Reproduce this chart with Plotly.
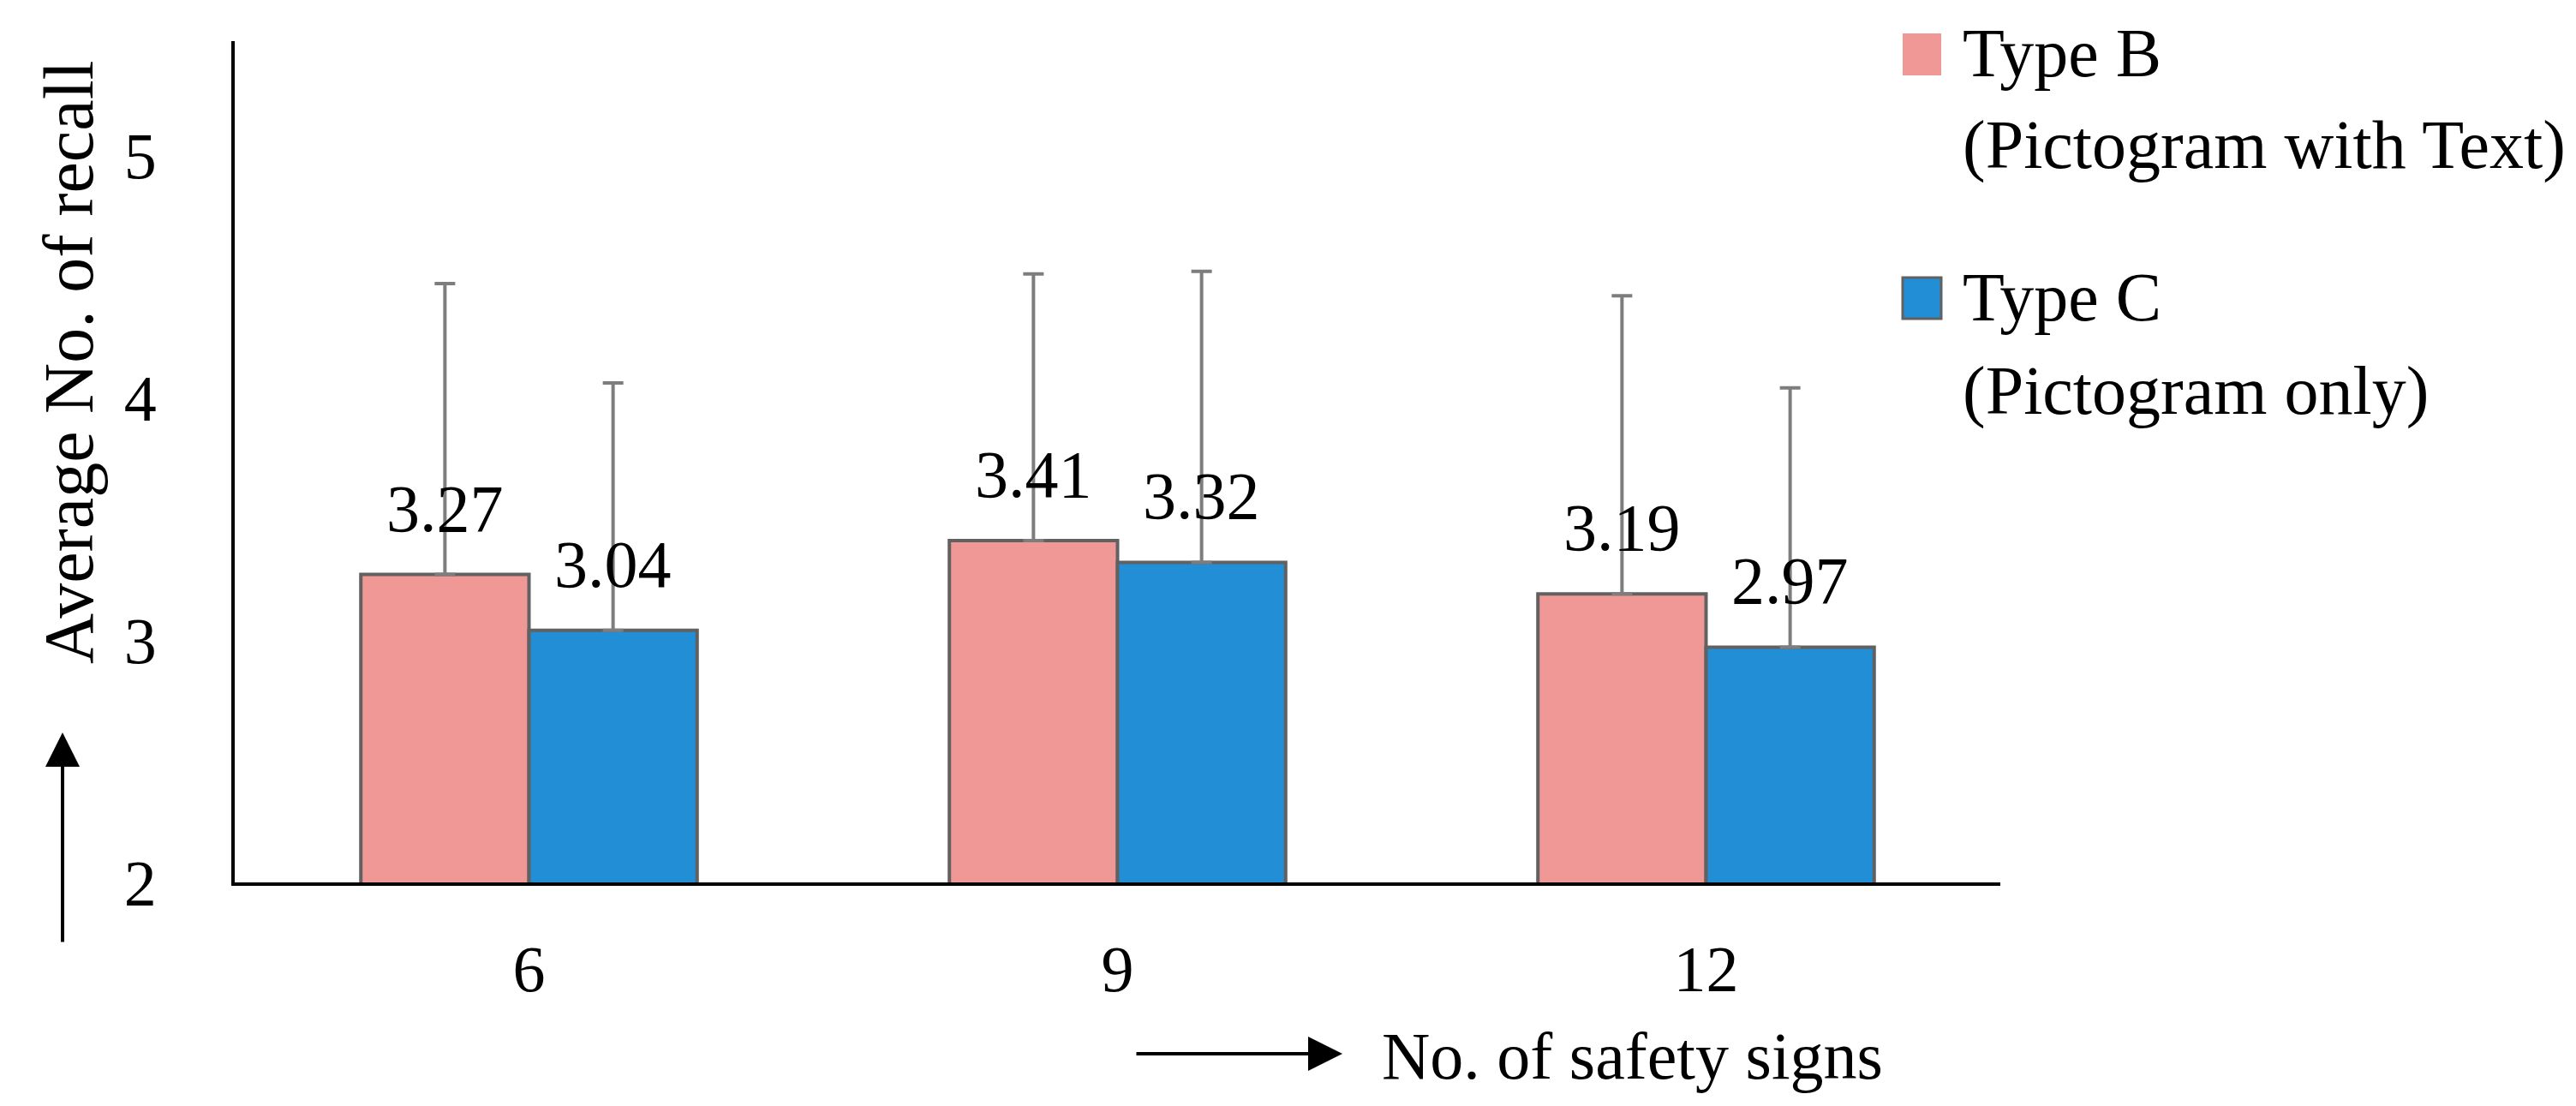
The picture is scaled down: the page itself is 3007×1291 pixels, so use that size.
import plotly.graph_objects as go

categories = ["6", "9", "12"]
series_names = ["Type B", "Type C"]
series_subtitles = ["(Pictogram with Text)", "(Pictogram only)"]
type_b = [3.27, 3.41, 3.19]
type_c = [3.04, 3.32, 2.97]
type_b_err = [1.20, 1.10, 1.23]
type_c_err = [1.02, 1.20, 1.07]
y_ticks = [2, 3, 4, 5]
y_title = "Average No. of recall"
x_title = "No. of safety signs"

W, H = 3007, 1291
L, R, T, B = 266, 680, 40, 269
FONT = "Liberation Serif"
colors = ["#F09896", "#228ED6"]
edge = "#616161"
errc = "#7d7d7d"

fig = go.Figure()
for name, vals, errs, col in [(series_names[0], type_b, type_b_err, colors[0]),
                              (series_names[1], type_c, type_c_err, colors[1])]:
    fig.add_trace(go.Bar(
        x=categories, y=vals, name=name,
        marker=dict(color=col, line=dict(color=edge, width=4)),
        error_y=dict(type="data", array=errs, arrayminus=[0] * len(errs),
                     symmetric=False, color=errc, thickness=4, width=12),
        showlegend=False,
    ))

annotations = []
half = 0.5 * (1 - 0.4286) / 2
for i in range(len(categories)):
    for vals, off in [(type_b, -half), (type_c, half)]:
        annotations.append(dict(
            x=i + off, y=vals[i], xref="x", yref="y", text=f"{vals[i]:.2f}",
            showarrow=False, yanchor="bottom", yshift=32,
            font=dict(family=FONT, size=78, color="black")))

pw = W - L - R
ph = H - T - B
def px(xp):
    return (xp - L) / pw
def py(yp):
    return (H - B - yp) / ph

# y-axis title and arrow
annotations.append(dict(x=px(72), y=py(415), xref="paper", yref="paper",
                        text=y_title, textangle=-90, showarrow=False,
                        xanchor="center", yanchor="middle",
                        font=dict(family=FONT, size=82, color="black")))
annotations.append(dict(x=px(65), y=py(847), xref="paper", yref="paper",
                        text="", showarrow=True, ax=0, ay=246,
                        arrowhead=2, arrowsize=2, arrowwidth=4, arrowcolor="black"))
# x-axis title and arrow
annotations.append(dict(x=px(1559), y=py(1222), xref="paper", yref="paper",
                        text="", showarrow=True, ax=-242, ay=0,
                        arrowhead=2, arrowsize=2, arrowwidth=4, arrowcolor="black"))
annotations.append(dict(x=px(1603), y=py(1224), xref="paper", yref="paper",
                        text=x_title, showarrow=False, xanchor="left", yanchor="middle",
                        font=dict(family=FONT, size=78, color="black")))

# legend drawn manually
shapes = []
leg_sq = [(31, 80), (316, 364)]
leg_line1 = [54, 339]
leg_line2 = [162, 448]
for k in range(2):
    y0, y1 = leg_sq[k]
    shapes.append(dict(type="rect", xref="paper", yref="paper",
                       x0=px(2213), x1=px(2258), y0=py(y1), y1=py(y0),
                       fillcolor=colors[k],
                       line=dict(color=colors[k] if k == 0 else edge, width=3 if k else 0)))
    annotations.append(dict(x=px(2281), y=py(leg_line1[k]), xref="paper", yref="paper",
                            text=series_names[k], showarrow=False, xanchor="left",
                            yanchor="middle", font=dict(family=FONT, size=80, color="black")))
    annotations.append(dict(x=px(2281), y=py(leg_line2[k]), xref="paper", yref="paper",
                            text=series_subtitles[k], showarrow=False, xanchor="left",
                            yanchor="middle", font=dict(family=FONT, size=80, color="black")))

fig.update_layout(
    width=W, height=H,
    margin=dict(l=L, r=R, t=T, b=B),
    paper_bgcolor="white", plot_bgcolor="white",
    barmode="group", bargap=0.4286, bargroupgap=0,
    font=dict(family=FONT, size=76, color="black"),
    annotations=annotations, shapes=shapes,
    xaxis=dict(showline=True, linecolor="black", linewidth=4, showgrid=False,
               ticks="", ticklabelstandoff=32, tickfont=dict(size=76),
               range=[-0.5, 2.5], zeroline=False),
    yaxis=dict(showline=True, linecolor="black", linewidth=4, showgrid=False,
               ticks="", tickvals=y_ticks, range=[2, 5.47], zeroline=False,
               ticklabelstandoff=72, tickfont=dict(size=76)),
)

fig.write_html("out.html")
